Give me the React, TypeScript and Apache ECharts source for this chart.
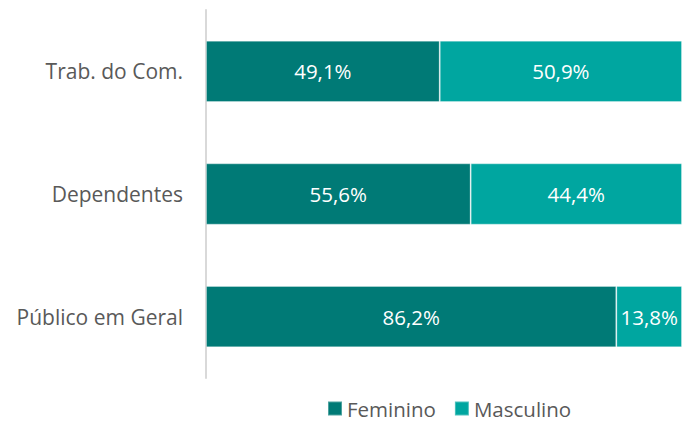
import React, { useEffect, useRef } from "react";
import * as echarts from "echarts";

const categories = ["Público em Geral", "Dependentes", "Trab. do Com."];
const feminino = [86.2, 55.6, 49.1];
const masculino = [13.8, 44.4, 50.9];

const FONT = "'Open Sans', 'Noto Sans', sans-serif";

export default function App() {
  const ref = useRef<HTMLDivElement>(null);
  useEffect(() => {
    const chart = echarts.init(ref.current!, null, { renderer: "svg" });
    const label = {
      show: true,
      position: "inside",
      color: "#ffffff",
      fontSize: 20.5,
      fontFamily: FONT,
      formatter: (p: any) => p.value.toFixed(1).replace(".", ",") + "%",
    };
    chart.setOption({
      animation: false,
      grid: { left: 206, right: 0, top: 10, bottom: 44 },
      xAxis: {
        type: "value",
        min: 0,
        max: 100,
        show: false,
      },
      yAxis: {
        type: "category",
        data: categories,
        axisLine: { show: true, lineStyle: { color: "#d9d9d9", width: 2 } },
        axisTick: { show: false },
        axisLabel: { color: "#595959", fontSize: 21, fontFamily: FONT, margin: 23 },
      },
      legend: {
        bottom: -2,
        left: 322,
        itemWidth: 14,
        itemHeight: 14,
        itemGap: 18,
        icon: "rect",
        textStyle: { color: "#595959", fontSize: 20.5, fontFamily: FONT, padding: [0, 0, 0, 0] },
        data: ["Feminino", "Masculino"],
      },
      series: [
        {
          name: "Feminino",
          type: "bar",
          stack: "total",
          data: feminino,
          barWidth: "50%",
          itemStyle: { color: "#007a76", borderColor: "rgba(255,255,255,0.3)", borderWidth: 1 },
          label,
        },
        {
          name: "Masculino",
          type: "bar",
          stack: "total",
          data: masculino,
          barWidth: "50%",
          itemStyle: { color: "#00a6a0", borderColor: "rgba(255,255,255,0.3)", borderWidth: 1 },
          label,
        },
      ],
    });
    return () => chart.dispose();
  }, []);
  return <div ref={ref} style={{ width: 682, height: 422, position: "absolute", left: 0, top: 0 }} />;
}
